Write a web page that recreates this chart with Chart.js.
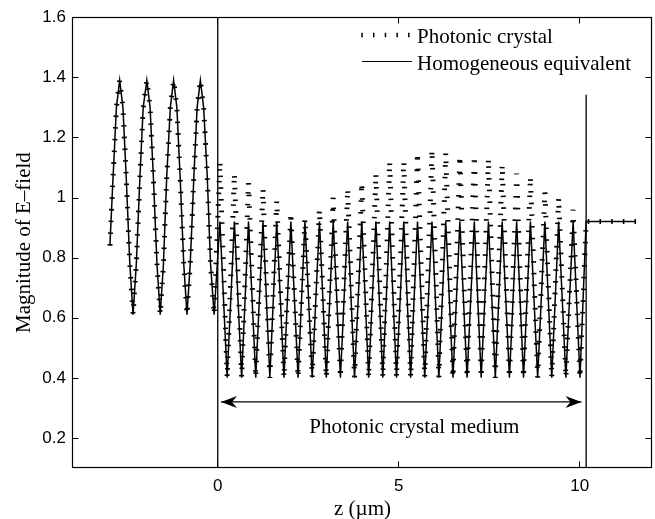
<!DOCTYPE html>
<html>
<head>
<meta charset="utf-8">
<script src="https://cdn.jsdelivr.net/npm/chart.js@4.4.1/dist/chart.umd.min.js"></script>
<style>
  html, body { margin: 0; padding: 0; background: #fff; }
  #wrap { width: 655px; height: 519px; }
</style>
</head>
<body>
<div id="wrap"><canvas id="chart"></canvas></div>
<script>
// |E| along z: photonic crystal vs its homogeneous equivalent

// incident side (z < 0), standing wave
const leftZ = [-2.98, -2.90, -2.80, -2.71, -2.62, -2.53, -2.43, -2.34, -2.25, -2.15, -2.06, -1.96, -1.87, -1.78, -1.68, -1.59,
               -1.50, -1.41, -1.31, -1.22, -1.13, -1.04, -0.94, -0.85, -0.76, -0.66, -0.57, -0.48, -0.39, -0.29, -0.20, -0.10];
const leftE = [0.84, 1.05, 1.30, 1.39, 1.30, 1.07, 0.78, 0.61, 0.78, 1.07, 1.30, 1.39, 1.30, 1.07, 0.78, 0.61,
               0.78, 1.07, 1.30, 1.39, 1.30, 1.07, 0.78, 0.61, 0.78, 1.07, 1.30, 1.39, 1.30, 1.07, 0.78, 0.61];

// inside the crystal: one peak and one trough per period
const peakZ = [0.06, 0.46, 0.85, 1.25, 1.63, 2.02, 2.41, 2.81, 3.19, 3.59, 3.98, 4.37, 4.75,
               5.14, 5.52, 5.92, 6.30, 6.69, 7.09, 7.48, 7.86, 8.26, 8.64, 9.04, 9.42, 9.82];
const troughZ = [0.26, 0.66, 1.05, 1.44, 1.83, 2.22, 2.61, 3.00, 3.39, 3.78, 4.17, 4.56, 4.94,
                 5.33, 5.72, 6.11, 6.50, 6.89, 7.28, 7.67, 8.06, 8.45, 8.84, 9.23, 9.62, 10.01];
const homPeakE = [0.92, 0.92, 0.92, 0.92, 0.92, 0.92, 0.92, 0.92, 0.92, 0.92, 0.92, 0.92, 0.92,
                  0.92, 0.92, 0.92, 0.92, 0.92, 0.92, 0.92, 0.92, 0.92, 0.92, 0.92, 0.92, 0.92];
const pcPeakE = [1.12, 1.08, 1.05, 1.03, 0.99, 0.95, 0.93, 0.96, 1.00, 1.03, 1.05, 1.08, 1.12,
                 1.12, 1.15, 1.16, 1.15, 1.14, 1.14, 1.13, 1.11, 1.08, 1.07, 1.02, 1.00, 0.96];
const troughE = [0.40, 0.40, 0.40, 0.40, 0.40, 0.40, 0.40, 0.40, 0.40, 0.40, 0.40, 0.40, 0.40,
                 0.40, 0.40, 0.40, 0.40, 0.40, 0.40, 0.40, 0.40, 0.40, 0.40, 0.40, 0.40, 0.40];

// transmitted side
const rightZ = [10.18, 11.56];
const rightE = [0.92, 0.92];

// crystal boundaries and the "medium" arrow
const boundaryZ = [0, 10.18];
const boundaryTop = [1.6, 1.342];
const arrowZ = [0.09, 10.05];
const arrowE = 0.32;
const mediumText = 'Photonic crystal medium';
const mediumAt = { z: 5.43, e: 0.215 };

const xTicks = [0, 5, 10];
const yTicks = [0.2, 0.4, 0.6, 0.8, 1, 1.2, 1.4, 1.6];

const SERIF = '"Liberation Serif", "Times New Roman", serif';
const SANS = '"Liberation Sans", Arial, sans-serif';
const PC_DASH = [1.6, 10.1];

function buildCurve(peaks) {
    const pts = leftZ.map((z, i) => ({ x: z, y: leftE[i] }));
    peakZ.forEach((z, i) => {
        pts.push({ x: z, y: peaks[i] });
        pts.push({ x: troughZ[i], y: troughE[i] });
    });
    rightZ.forEach((z, i) => pts.push({ x: z, y: rightE[i] }));
    return pts;
}

const lineDefaults = { showLine: true, pointRadius: 0, borderColor: '#000', tension: 0, fill: false };

const datasets = [
    { ...lineDefaults, label: 'Homogeneous equivalent', data: buildCurve(homPeakE), borderWidth: 1.5 },
    { ...lineDefaults, label: 'Photonic crystal', data: buildCurve(pcPeakE), borderWidth: 5,
      borderDash: PC_DASH, borderCapStyle: 'butt', borderJoinStyle: 'bevel' },
    { ...lineDefaults, label: 'b0', data: [{ x: boundaryZ[0], y: 0.1 }, { x: boundaryZ[0], y: boundaryTop[0] }], borderWidth: 1.3 },
    { ...lineDefaults, label: 'b1', data: [{ x: boundaryZ[1], y: 0.1 }, { x: boundaryZ[1], y: boundaryTop[1] }], borderWidth: 1.3 },
    { ...lineDefaults, label: 'arrow', data: [{ x: arrowZ[0], y: arrowE }, { x: arrowZ[1], y: arrowE }], borderWidth: 1.3 }
];

function arrowHead(ctx, tx, ty, dir) {
    // dir = -1 points left, 1 points right
    ctx.beginPath();
    ctx.moveTo(tx, ty);
    ctx.lineTo(tx - dir * 16, ty - 6);
    ctx.lineTo(tx - dir * 11, ty);
    ctx.lineTo(tx - dir * 16, ty + 6);
    ctx.closePath();
    ctx.fill();
}

const decorations = {
    id: 'decorations',
    afterDatasetsDraw(chart) {
        const { ctx, chartArea: a, scales: { x, y } } = chart;
        ctx.save();
        ctx.strokeStyle = '#000';
        ctx.fillStyle = '#000';
        ctx.setLineDash([]);

        // box
        const L = Math.round(a.left) - 0.5, R = Math.round(a.right) - 0.5;
        const T = Math.round(a.top) + 0.5, B = Math.round(a.bottom) - 0.5;
        ctx.lineWidth = 1.2;
        ctx.strokeRect(L, T, R - L, B - T);

        // inward ticks on all four sides
        ctx.lineWidth = 1;
        ctx.beginPath();
        xTicks.forEach(v => {
            const px = Math.round(x.getPixelForValue(v)) - 0.5;
            ctx.moveTo(px, B); ctx.lineTo(px, B - 6);
            ctx.moveTo(px, T); ctx.lineTo(px, T + 6);
        });
        yTicks.forEach(v => {
            const py = Math.round(y.getPixelForValue(v)) + 0.5;
            ctx.moveTo(L, py); ctx.lineTo(L + 6, py);
            ctx.moveTo(R, py); ctx.lineTo(R - 6, py);
        });
        ctx.stroke();

        // arrow heads of the medium span
        const ay = y.getPixelForValue(arrowE);
        arrowHead(ctx, x.getPixelForValue(arrowZ[0]), ay, -1);
        arrowHead(ctx, x.getPixelForValue(arrowZ[1]), ay, 1);

        // medium label
        ctx.font = '21px ' + SERIF;
        ctx.textAlign = 'center';
        ctx.textBaseline = 'alphabetic';
        ctx.fillText(mediumText, x.getPixelForValue(mediumAt.z), y.getPixelForValue(mediumAt.e));

        // legend, top right inside the box
        const lx0 = 362, lx1 = 412, tx = 417;
        ctx.lineWidth = 4.5;
        ctx.lineCap = 'butt';
        ctx.setLineDash([1.5, 10.2]);
        ctx.beginPath(); ctx.moveTo(lx0 - 0.7, 35); ctx.lineTo(lx1, 35); ctx.stroke();
        ctx.setLineDash([]);
        ctx.lineWidth = 1.2;
        ctx.beginPath(); ctx.moveTo(lx0, 61.5); ctx.lineTo(lx1, 61.5); ctx.stroke();
        ctx.textAlign = 'left';
        ctx.fillText('Photonic crystal', tx, 42.5);
        ctx.fillText('Homogeneous equivalent', tx, 69.5);

        ctx.restore();
    }
};

new Chart(document.getElementById('chart'), {
    type: 'scatter',
    data: { datasets },
    options: {
        responsive: true,
        maintainAspectRatio: false,
        animation: false,
        layout: { padding: { top: 13, right: 3, left: 0, bottom: 0 } },
        plugins: { legend: { display: false }, tooltip: { enabled: false } },
        scales: {
            x: {
                type: 'linear', min: -4, max: 12,
                grid: { display: false, drawTicks: false },
                border: { display: false },
                afterBuildTicks: s => { s.ticks = xTicks.map(v => ({ value: v })); },
                afterFit: s => { s.height = 51; },
                ticks: { color: '#000', padding: 8, autoSkip: false, maxRotation: 0,
                         font: { family: SANS, size: 17 }, callback: v => String(v) },
                title: { display: true, text: 'z (µm)', color: '#000', padding: { top: 0, bottom: -3 },
                         font: { family: SERIF, size: 21 } }
            },
            y: {
                type: 'linear', min: 0.1, max: 1.6,
                grid: { display: false, drawTicks: false },
                border: { display: false },
                afterBuildTicks: s => { s.ticks = yTicks.map(v => ({ value: v })); },
                afterFit: s => { s.width = 73; },
                ticks: { color: '#000', padding: 7, autoSkip: false,
                         font: { family: SANS, size: 17 }, callback: v => String(v) },
                title: { display: true, text: 'Magnitude of E–field', color: '#000', padding: { top: 12, bottom: 0 },
                         font: { family: SERIF, size: 21 } }
            }
        }
    },
    plugins: [decorations]
});
</script>
</body>
</html>
